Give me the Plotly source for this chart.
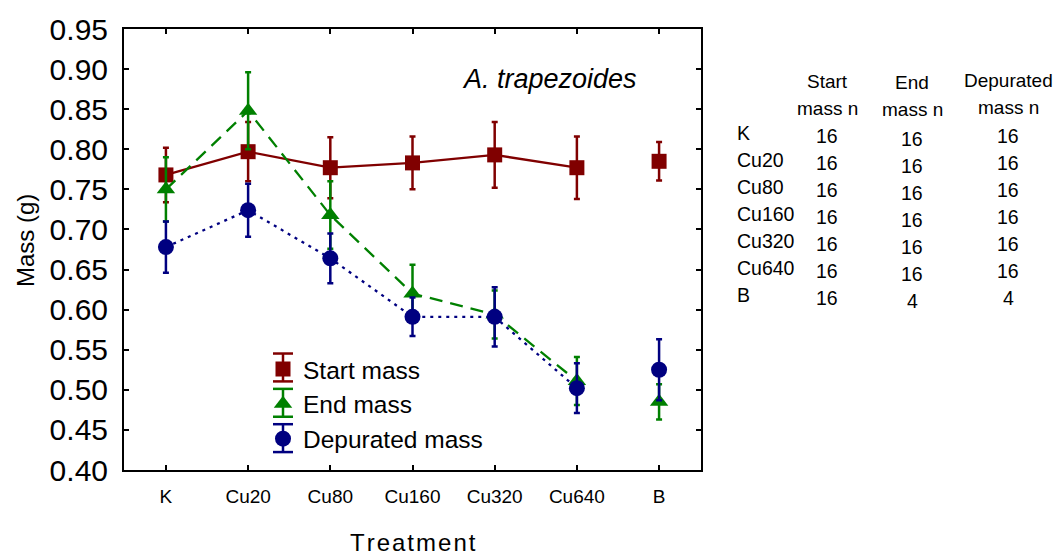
import plotly.graph_objects as go

treatments = ["K", "Cu20", "Cu80", "Cu160", "Cu320", "Cu640", "B"]
start_mass = [0.768, 0.797, 0.777, 0.783, 0.793, 0.777, 0.785]
start_err = [0.034, 0.037, 0.038, 0.033, 0.041, 0.039, 0.024]
end_mass = [0.750, 0.848, 0.718, 0.620, 0.594, 0.511, 0.485]
end_err = [0.040, 0.048, 0.042, 0.036, 0.030, 0.030, 0.022]
dep_mass = [0.678, 0.724, 0.664, 0.591, 0.591, 0.502, 0.525]
dep_err = [0.032, 0.033, 0.031, 0.024, 0.037, 0.031, 0.038]

n_start = [16, 16, 16, 16, 16, 16, 16]
n_end = [16, 16, 16, 16, 16, 16, 4]
n_dep = [16, 16, 16, 16, 16, 16, 4]
table_headers = [("Start", "mass n"), ("End", "mass n"), ("Depurated", "mass n")]

FONT = "Liberation Sans, Arial, sans-serif"
RED = "#800000"
GREEN = "#008000"
BLUE = "#000080"

series = [
    ("Start mass", start_mass, start_err, RED, "square", "solid", 15),
    ("End mass", end_mass, end_err, GREEN, "triangle-up", "13px,8px", 16),
    ("Depurated mass", dep_mass, dep_err, BLUE, "circle", "3px,5px", 16),
]

fig = go.Figure()
for name, vals, errs, col, sym, dash, msize in series:
    fig.add_trace(go.Scatter(
        x=treatments[:6], y=vals[:6], mode="lines",
        line=dict(color=col, width=2.3, dash=dash),
        showlegend=False, hoverinfo="skip"))
    fig.add_trace(go.Scatter(
        x=treatments, y=vals, mode="markers", name=name,
        marker=dict(color=col, symbol=sym, size=msize),
        error_y=dict(type="data", array=errs, visible=True,
                     color=col, thickness=2.5, width=3)))

# plot area pixel geometry
L, R, T, B = 124, 701, 27, 470
W, H = 1058, 557
def px(x):
    return (x - L) / (R - L)
def py(y):
    return (B - y) / (B - T)

def ann(text, x, y, size, xanchor="center", **kw):
    return dict(text=text, x=px(x), y=py(y), xref="paper", yref="paper",
                xanchor=xanchor, yanchor="middle", showarrow=False,
                font=dict(family=FONT, size=size, color="black"), **kw)

annotations = [
    ann("<i>A. trapezoides</i>", 549, 77, 27),
    ann("Mass (g)", 25, 240, 24, textangle=-90),
    ann("\u200a".join("Treatment"), 413, 543, 24),
]

col_x = [827, 912, 1008]
col_dy = [0, 3, 0]
header_y = [80, 81, 79]
for cx, hy, (h1, h2) in zip(col_x, header_y, table_headers):
    annotations.append(ann(h1, cx, hy, 19))
    annotations.append(ann(h2, cx, hy + 27, 19))
row_y0, row_dy = 131, 27.2
for i, t in enumerate(treatments):
    ry = row_y0 + i * row_dy
    annotations.append(ann(t, 735, ry, 19.5, xanchor="left"))
    for cx, dy, arr in zip(col_x, col_dy, [n_start, n_end, n_dep]):
        annotations.append(ann(str(arr[i]), cx, ry + 3 + dy, 19.5))

# error-bar whiskers behind legend symbols
shapes = []
leg_cx = 283
for i, (_, _, _, col, _, _, _) in enumerate(series):
    cy = 367 + 35.5 * i
    top, bot = cy - 14, cy + 14
    line = dict(color=col, width=2.5)
    shapes.append(dict(type="line", xref="paper", yref="paper",
                       x0=px(leg_cx), x1=px(leg_cx), y0=py(top), y1=py(bot), line=line))
    for yy in (top, bot):
        shapes.append(dict(type="line", xref="paper", yref="paper",
                           x0=px(leg_cx - 10), x1=px(leg_cx + 10), y0=py(yy), y1=py(yy), line=line))

fig.update_layout(
    width=W, height=H,
    margin=dict(l=L, r=W - R, t=T, b=H - B, pad=0),
    plot_bgcolor="white", paper_bgcolor="white",
    font=dict(family=FONT, color="black"),
    showlegend=True,
    legend=dict(x=px(263), y=py(346), xanchor="left", yanchor="top",
                bgcolor="rgba(0,0,0,0)", font=dict(family=FONT, size=24.5),
                tracegroupgap=0, itemsizing="trace"),
    annotations=annotations,
    shapes=shapes,
    xaxis=dict(type="category", categoryorder="array", categoryarray=treatments,
               range=[-0.51, 6.51], showline=True, linecolor="black", linewidth=2,
               mirror="ticks", ticks="inside", ticklen=5, tickwidth=2, tickcolor="black",
               showgrid=False, zeroline=False, ticklabelstandoff=8,
               tickfont=dict(family=FONT, size=19)),
    yaxis=dict(range=[0.40, 0.95], dtick=0.05, tickformat=".2f",
               showline=True, linecolor="black", linewidth=2,
               mirror="ticks", ticks="inside", ticklen=5, tickwidth=2, tickcolor="black",
               showgrid=False, zeroline=False, ticklabelstandoff=8,
               tickfont=dict(family=FONT, size=30)),
)

fig.write_html("out.html")
